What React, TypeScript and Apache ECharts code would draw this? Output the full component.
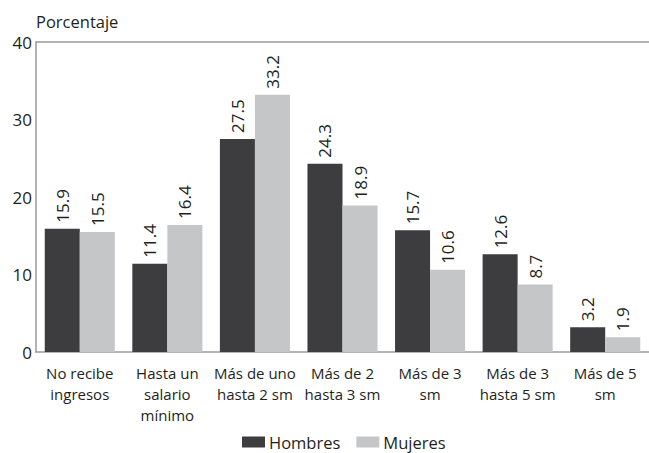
import React, { useEffect, useRef } from "react";
import * as echarts from "echarts";

const categories = [
  "No recibe\ningresos",
  "Hasta un\nsalario\nmínimo",
  "Más de uno\nhasta 2 sm",
  "Más de 2\nhasta 3 sm",
  "Más de 3\nsm",
  "Más de 3\nhasta 5 sm",
  "Más de 5\nsm",
];
const hombres = [15.9, 11.4, 27.5, 24.3, 15.7, 12.6, 3.2];
const mujeres = [15.5, 16.4, 33.2, 18.9, 10.6, 8.7, 1.9];
const yTicks = { min: 0, max: 40, interval: 10 };

const FONT = "'Open Sans', 'Noto Sans', sans-serif";
const TEXT = "#231f20";
const DARK = "#3d3d40";
const LIGHT = "#c5c6c8";
const AXIS = "#9a9a9a";

export default function App() {
  const ref = useRef<HTMLDivElement>(null);
  useEffect(() => {
    if (!ref.current) return;
    const chart = echarts.init(ref.current, null, { renderer: "svg" });
    const label = {
      show: true,
      position: "top",
      rotate: 90,
      align: "left",
      verticalAlign: "middle",
      distance: 6,
      fontSize: 17,
      fontFamily: FONT,
      color: TEXT,
      formatter: (p: any) => p.value.toFixed(1),
    };
    chart.setOption({
      animation: false,
      textStyle: { fontFamily: FONT, color: TEXT },
      grid: { left: 36, right: 0, top: 42, bottom: 101, containLabel: false },
      legend: {
        top: 432,
        left: 242,
        padding: 0,
        itemWidth: 23,
        itemHeight: 11,
        itemGap: 16,
        icon: "rect",
        textStyle: { fontSize: 16.5, lineHeight: 20, fontFamily: FONT, color: TEXT, padding: [0, 0, 0, -1] },
        data: ["Hombres", "Mujeres"],
      },
      xAxis: [
        {
          type: "category",
          data: categories,
          axisLine: { show: true, lineStyle: { color: AXIS, width: 1.5 } },
          axisTick: { show: false },
          axisLabel: {
            interval: 0,
            fontSize: 15,
            lineHeight: 21,
            margin: 10,
            color: TEXT,
            fontFamily: FONT,
          },
        },
        {
          type: "category",
          position: "top",
          data: categories,
          axisLine: { show: true, lineStyle: { color: AXIS, width: 1.5 } },
          axisTick: { show: false },
          axisLabel: { show: false },
        },
      ],
      yAxis: {
        type: "value",
        min: yTicks.min,
        max: yTicks.max,
        interval: yTicks.interval,
        name: "Porcentaje",
        nameLocation: "end",
        nameGap: 12,
        nameTextStyle: { fontSize: 16.5, color: TEXT, fontFamily: FONT, align: "left", padding: [0, 0, 0, 0] },
        axisLine: { show: true, lineStyle: { color: AXIS, width: 1.5 } },
        axisTick: { show: false },
        splitLine: { show: false },
        axisLabel: { fontSize: 17, color: TEXT, fontFamily: FONT, margin: 4 },
      },
      series: [
        {
          name: "Hombres",
          type: "bar",
          data: hombres,
          itemStyle: { color: DARK },
          barGap: "0%",
          barCategoryGap: "20%",
          label,
        },
        {
          name: "Mujeres",
          type: "bar",
          data: mujeres,
          itemStyle: { color: LIGHT },
          barGap: "0%",
          barCategoryGap: "20%",
          label,
        },
      ],
    });
    return () => chart.dispose();
  }, []);
  return (
    <div
      ref={ref}
      style={{ position: "fixed", left: 0, top: 0, width: 649, height: 453, background: "#fff" }}
    />
  );
}
